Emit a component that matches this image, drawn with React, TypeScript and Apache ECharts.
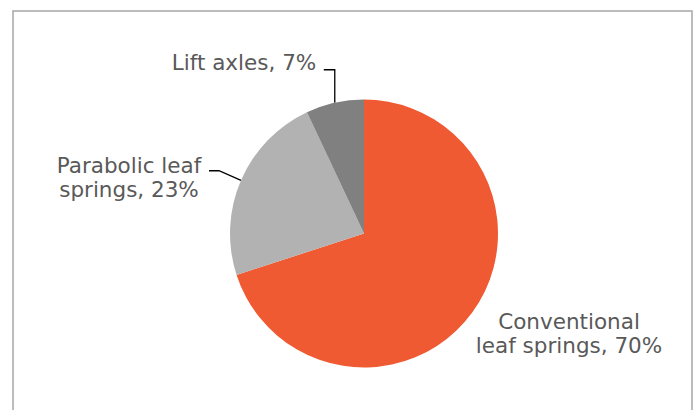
import React, { useEffect, useRef } from "react";
import * as echarts from "echarts";

const categories = ["Conventional\nleaf springs", "Parabolic leaf\nsprings", "Lift axles"];
const shares = [70, 23, 7];
const colors = ["#EF5A32", "#B2B2B2", "#808080"];

export default function App() {
  const ref = useRef<HTMLDivElement>(null);
  useEffect(() => {
    if (!ref.current) return;
    const chart = echarts.init(ref.current, null, { renderer: "svg" });
    const labelPos: Record<number, [number, number]> = {
      0: [569, 333],
      1: [129, 177],
      2: [244, 62],
    };
    chart.setOption({
      animation: false,
      backgroundColor: "#ffffff",
      graphic: [
        {
          type: "rect",
          shape: { x: 13, y: 11, width: 679, height: 420 },
          style: { fill: "none", stroke: "#a6a6a6", lineWidth: 1.5 },
          silent: true,
        },
      ],
      series: [
        {
          type: "pie",
          center: [364, 233.5],
          radius: [0, 134],
          startAngle: 90,
          clockwise: true,
          avoidLabelOverlap: false,
          data: categories.map((name, i) => ({
            name,
            value: shares[i],
            itemStyle: { color: colors[i] },
            labelLine: { show: i !== 0 },
          })),
          label: {
            show: true,
            position: "outside",
            formatter: "{b}, {c}%",
            color: "#595959",
            fontFamily: "DejaVu Sans",
            fontSize: 21.5,
            lineHeight: 24,
            align: "center",
          },
          labelLine: {
            show: true,
            length: 24,
            length2: 10,
            lineStyle: { color: "#000000", width: 1.3 },
          },
          labelLayout: (params: any) => {
            const i = params.dataIndex;
            const [x, y] = labelPos[i];
            const res: any = { x, y, align: "center", verticalAlign: "middle" };
            const pts = params.labelLinePoints;
            if (pts && pts.length) {
              const p0 = pts[0];
              if (i === 2) {
                res.labelLinePoints = [
                  [p0[0], p0[1]],
                  [p0[0], p0[1] - 33],
                  [p0[0] - 11, p0[1] - 33],
                ];
              } else if (i === 1) {
                res.labelLinePoints = pts.map((p: number[]) => [p[0], p[1]]);
              }
            }
            return res;
          },
        },
      ],
    });
    return () => chart.dispose();
  }, []);
  return (
    <div
      ref={ref}
      style={{ position: "fixed", left: 0, top: 0, width: 697, height: 410 }}
    />
  );
}
